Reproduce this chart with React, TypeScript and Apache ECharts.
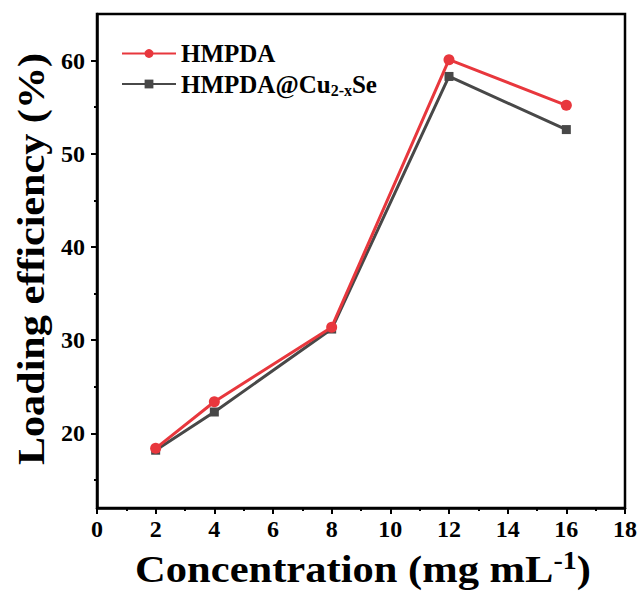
import React, { useEffect, useRef } from "react";
import * as echarts from "echarts";

// Drug concentration (mg/mL) and loading efficiency (%) for each carrier
const concentrations = [2, 4, 8, 12, 16];
const hmpdaValues = [18.4, 23.4, 31.4, 60.1, 55.2];
const hmpdaCuSeValues = [18.2, 22.3, 31.2, 58.3, 52.6];

const yMajorTicks = [20, 30, 40, 50, 60];
const yMinorTicks = [15, 25, 35, 45, 55];

const xTitle = "{a|Concentration (mg mL}{sup|-1}{a|)}";
const yTitle = "Loading efficiency (%)";

const FONT = "'Liberation Serif', 'Times New Roman', serif";
const RED = "#e8373d";
const GREY = "#484848";

export default function App() {
  const ref = useRef<HTMLDivElement>(null);

  useEffect(() => {
    document.body.style.margin = "0";
    if (!ref.current) return;
    const chart = echarts.init(ref.current, null, { renderer: "svg" });

    const axisLine = { show: true, lineStyle: { color: "#000", width: 2.5 } };
    const tickLabel = { color: "#000", fontFamily: FONT, fontWeight: "bold" as const, fontSize: 24 };

    chart.setOption({
      animation: false,
      backgroundColor: "#fff",
      grid: {
        left: 97,
        right: 14,
        top: 14,
        bottom: 86,
        show: true,
        borderColor: "#000",
        borderWidth: 2.5,
        containLabel: false,
      },
      graphic: [
        {
          type: "text",
          x: 363,
          y: 569,
          scaleX: 1.12,
          style: {
            text: xTitle,
            align: "center",
            verticalAlign: "middle",
            fill: "#000",
            rich: {
              a: { fontFamily: FONT, fontWeight: "bold", fontSize: 38, fill: "#000" },
              sup: {
                fontFamily: FONT,
                fontWeight: "bold",
                fontSize: 25,
                fill: "#000",
                padding: [0, 0, 16, 0],
              },
            },
          },
        },
        {
          type: "text",
          x: 31,
          y: 259,
          rotation: Math.PI / 2,
          scaleX: 1.11,
          style: {
            text: yTitle,
            align: "center",
            verticalAlign: "middle",
            fill: "#000",
            fontFamily: FONT,
            fontWeight: "bold",
            fontSize: 38,
          },
        },
      ],
      legend: {
        left: 116,
        top: 36,
        orient: "vertical",
        itemWidth: 54,
        itemHeight: 11,
        itemGap: 4,
        data: ["HMPDA", "HMPDA@Cu2-xSe"],
        formatter: (name: string) =>
          name === "HMPDA" ? "{a|HMPDA}" : "{a|HMPDA@Cu}{sub|2-x}{a|Se}",
        textStyle: {
          fontFamily: FONT,
          fontWeight: "bold",
          color: "#000",
          fontSize: 25,
          rich: {
            a: { fontFamily: FONT, fontWeight: "bold", fontSize: 25, color: "#000", lineHeight: 27 },
            sub: {
              fontFamily: FONT,
              fontWeight: "bold",
              fontSize: 16,
              color: "#000",
              lineHeight: 27,
              padding: [12, 0, 0, 0],
            },
          },
        },
      },
      xAxis: {
        type: "value",
        min: 0,
        max: 18,
        interval: 2,
        axisLine,
        axisTick: { show: true, inside: false, length: 6, lineStyle: { color: "#000", width: 2 } },
        minorTick: { show: true, splitNumber: 2, length: 3, lineStyle: { color: "#000", width: 2 } },
        axisLabel: { ...tickLabel, margin: 9 },
        splitLine: { show: false },
      },
      yAxis: [
        {
          type: "value",
          min: 12,
          max: 65,
          axisLine,
          axisTick: {
            show: true,
            length: 6,
            customValues: yMajorTicks,
            lineStyle: { color: "#000", width: 2 },
          },
          axisLabel: { ...tickLabel, margin: 12, customValues: yMajorTicks },
          splitLine: { show: false },
        },
        {
          type: "value",
          min: 12,
          max: 65,
          position: "left",
          axisLine: { show: false },
          axisTick: {
            show: true,
            length: 3,
            customValues: yMinorTicks,
            lineStyle: { color: "#000", width: 2 },
          },
          axisLabel: { show: false, customValues: yMinorTicks },
          splitLine: { show: false },
        },
      ],
      series: [
        {
          name: "HMPDA",
          type: "line",
          data: concentrations.map((c, i) => [c, hmpdaValues[i]]),
          symbol: "circle",
          symbolSize: 11,
          itemStyle: { color: RED },
          lineStyle: { color: RED, width: 3 },
          z: 3,
        },
        {
          name: "HMPDA@Cu2-xSe",
          type: "line",
          data: concentrations.map((c, i) => [c, hmpdaCuSeValues[i]]),
          symbol: "rect",
          symbolSize: 9,
          itemStyle: { color: GREY },
          lineStyle: { color: GREY, width: 3 },
          z: 2,
        },
      ],
    });

    return () => chart.dispose();
  }, []);

  return <div ref={ref} style={{ width: 640, height: 594 }} />;
}
